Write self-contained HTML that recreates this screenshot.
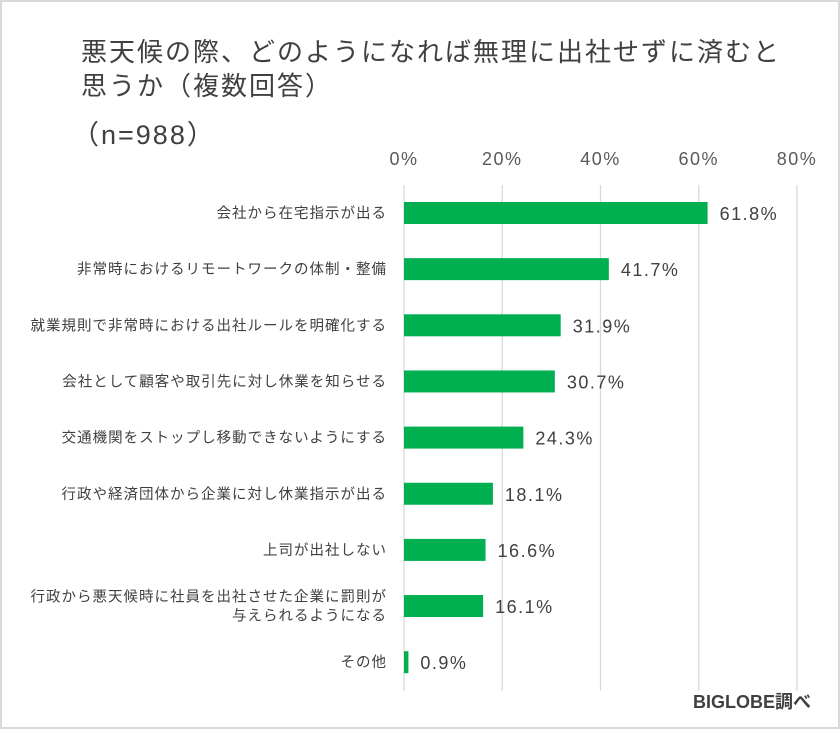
<!DOCTYPE html>
<html><head><meta charset="utf-8"><style>
body{margin:0;background:#fff}
#wrap{position:relative;width:836px;height:725px;border:2px solid #d9d9d9;background:#fff;font-family:"Liberation Sans","Noto Sans CJK JP",sans-serif;color:#404040;overflow:hidden}
.t{position:absolute;left:79px;font-size:26px;letter-spacing:2px;white-space:nowrap;color:#404040}
</style></head><body>
<div id="wrap">
<div class="t" style="top:30px">悪天候の際、どのようになれば無理に出社せずに済むと</div>
<div class="t" style="top:64px">思うか（複数回答）</div>
<div class="t" style="top:111px;left:70px;font-size:27px">（n=988）</div>
<svg id="c" width="836" height="725" style="position:absolute;left:0;top:0"></svg>
<div style="position:absolute;left:691px;top:686px;font-size:18px;font-weight:bold;color:#404040">BIGLOBE調べ</div>
</div>
<script>
const categories=["会社から在宅指示が出る","非常時におけるリモートワークの体制・整備","就業規則で非常時における出社ルールを明確化する","会社として顧客や取引先に対し休業を知らせる","交通機関をストップし移動できないようにする","行政や経済団体から企業に対し休業指示が出る","上司が出社しない","行政から悪天候時に社員を出社させた企業に罰則が|与えられるようになる","その他"];
const values=[61.8,41.7,31.9,30.7,24.3,18.1,16.6,16.1,0.9];
const ticks=[0,20,40,60,80];
const ns="http://www.w3.org/2000/svg";
const svg=document.getElementById('c');
const X0=402,X1=795;
const x=v=>X0+(v/80)*(X1-X0);
const y0=211,step=56.15;
const y=i=>y0+i*step;
function mk(t,a){const e=document.createElementNS(ns,t);for(const k in a)e.setAttribute(k,a[k]);svg.appendChild(e);return e;}
ticks.forEach(t=>{
 const l=mk('line',{x1:x(t),x2:x(t),y1:183,y2:689,stroke:'#d9d9d9','stroke-width':1.3});
 
 
 const tx=mk('text',{x:x(t),y:163,'text-anchor':'middle','font-size':18,'letter-spacing':1.5,fill:'#595959'});
 tx.textContent=t+'%';
 
 
});
categories.forEach((c,i)=>{
 const cy=y(i);
 const r=mk('rect',{x:x(0),y:cy-11,width:x(values[i])-x(0),height:22,fill:'#00b050'});
 
 
 const v=mk('text',{x:x(values[i])+12,y:cy+7,'font-size':18,'letter-spacing':1.5,fill:'#404040'});
 v.textContent=values[i].toFixed(1)+'%';
 
 
 const parts=c.split('|');
 parts.forEach((p,j)=>{
  const t=mk('text',{x:385,y:cy+5+(j-(parts.length-1)/2)*19,'text-anchor':'end','font-size':14.5,'letter-spacing':1,fill:'#404040'});
  t.textContent=p;
  
  
 });
});
</script>
</body></html>
